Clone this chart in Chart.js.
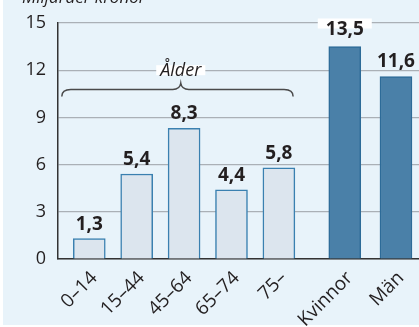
<!DOCTYPE html>
<html lang="sv">
<head>
<meta charset="utf-8">
<script src="https://cdn.jsdelivr.net/npm/chart.js@4.4.1/dist/chart.umd.min.js"></script>
<style>
    html, body { margin: 0; padding: 0; background: #fff; }
    #wrap { width: 419px; height: 327px; }
</style>
</head>
<body>
<div id="wrap"><canvas id="costChart" width="419" height="327"></canvas></div>
<script>
const ageGroups = ['0–14', '15–44', '45–64', '65–74', '75–'];
const ageValues = [1.3, 5.4, 8.3, 4.4, 5.8];
const genders = ['Kvinnor', 'Män'];
const genderValues = [13.5, 11.6];
const yTicks = [0, 3, 6, 9, 12, 15];
const unitLabel = 'Miljarder kronor';
const ageTitle = 'Ålder';

// layout of the x axis, in bar steps
const GENDER_START = 5.39;
const GENDER_STEP = 1.08;

const FONT = '"Open Sans", "DejaVu Sans", sans-serif';
const TEXT = '#231f20';

const agePos = ageGroups.map((g, i) => i);
const genderPos = genders.map((g, j) => GENDER_START + j * GENDER_STEP);
const tickPos = agePos.concat(genderPos);
const tickNames = ageGroups.concat(genders);

function fmt(v) {
    return v.toFixed(1).replace('.', ',');
}

const backdrop = {
    id: 'backdrop',
    beforeDraw(chart) {
        const ctx = chart.ctx;
        ctx.save();
        ctx.fillStyle = '#fff';
        ctx.fillRect(0, 0, chart.width, chart.height);
        ctx.fillStyle = '#e8f3fa';
        ctx.fillRect(3, 0, chart.width - 3, chart.height - 2);
        ctx.restore();
    }
};

const annotations = {
    id: 'annotations',
    beforeDatasetsDraw(chart) {
        const ctx = chart.ctx;
        const x = chart.scales.x, y = chart.scales.y;
        ctx.save();

        // unit title, mostly clipped at the top edge
        ctx.font = 'italic 17px ' + FONT;
        ctx.fillStyle = TEXT;
        ctx.textAlign = 'left';
        ctx.textBaseline = 'alphabetic';
        ctx.fillText(unitLabel, 22, 3);

        // white blank behind the "Ålder" heading on the 12 gridline
        const cx = x.getPixelForValue(1.93);
        const gy = y.getPixelForValue(12);
        ctx.font = 'italic 18px ' + FONT;
        const w = ctx.measureText(ageTitle).width + 8;
        ctx.fillStyle = '#fff';
        ctx.fillRect(cx - w / 2, gy - 5, w, 10);
        ctx.fillStyle = TEXT;
        ctx.textAlign = 'center';
        ctx.fillText(ageTitle, cx, gy + 6);

        // curly brace over the age groups
        const x0 = x.getPixelForValue(-0.58);
        const x1 = x.getPixelForValue(4.3);
        const yl = y.getPixelForValue(10.78);
        const yEnd = yl + 7;
        const yTip = yl - 6;
        ctx.strokeStyle = '#4a4a4a';
        ctx.lineWidth = 1.5;
        ctx.beginPath();
        ctx.moveTo(x0, yEnd);
        ctx.quadraticCurveTo(x0, yl, x0 + 9, yl);
        ctx.lineTo(cx - 8, yl);
        ctx.quadraticCurveTo(cx - 1, yl, cx, yTip);
        ctx.quadraticCurveTo(cx + 1, yl, cx + 8, yl);
        ctx.lineTo(x1 - 9, yl);
        ctx.quadraticCurveTo(x1, yl, x1, yEnd);
        ctx.stroke();

        // tallest bar's label sits on the top gridline, so blank the line there
        const meta = chart.getDatasetMeta(1);
        const top = meta.data[0];
        ctx.font = 'bold 19px ' + FONT;
        const tw = ctx.measureText(fmt(genderValues[0])).width + 16;
        ctx.fillStyle = '#fff';
        ctx.fillRect(top.x - tw / 2, y.getPixelForValue(15) - 4.5, tw, 10);
        ctx.restore();
    },
    afterDatasetsDraw(chart) {
        const ctx = chart.ctx;
        ctx.save();
        ctx.font = 'bold 19px ' + FONT;
        ctx.fillStyle = TEXT;
        ctx.textAlign = 'center';
        ctx.textBaseline = 'alphabetic';
        chart.data.datasets.forEach((ds, di) => {
            chart.getDatasetMeta(di).data.forEach((bar, i) => {
                const v = ds.data[i].y;
                const lift = (di === 1 && i === 0) ? 12 : 9;
                ctx.fillText(fmt(v), bar.x, bar.y - lift);
            });
        });
        ctx.restore();
    }
};

const ctx = document.getElementById('costChart').getContext('2d');
new Chart(ctx, {
    type: 'bar',
    data: {
        datasets: [{
            data: ageValues.map((v, i) => ({ x: agePos[i], y: v })),
            backgroundColor: '#dce5ee',
            borderColor: '#3a80b0',
            borderWidth: 1.5,
        }, {
            data: genderValues.map((v, j) => ({ x: genderPos[j], y: v })),
            backgroundColor: '#4a80a8',
            borderColor: '#2d6b98',
            borderWidth: 1.5,
        }]
    },
    options: {
        responsive: false,
        animation: false,
        devicePixelRatio: 1,
        barThickness: 32,
        grouped: false,
        layout: { padding: { top: 23, right: 0, bottom: 0, left: 0 } },
        plugins: {
            legend: { display: false },
            tooltip: { enabled: false },
        },
        scales: {
            x: {
                type: 'linear',
                min: -0.66,
                max: 6.956,
                offset: false,
                grid: { display: false },
                border: { color: '#333', width: 1.5 },
                afterBuildTicks: (scale) => {
                    scale.ticks = tickPos.map(v => ({ value: v }));
                },
                afterFit: (scale) => { scale.height = 68; },
                ticks: {
                    autoSkip: false,
                    minRotation: 45,
                    maxRotation: 45,
                    padding: 0,
                    labelOffset: 5,
                    color: TEXT,
                    font: { family: FONT, size: 19 },
                    callback: (value, index) => tickNames[index],
                },
            },
            y: {
                min: 0,
                max: 15,
                afterBuildTicks: (scale) => {
                    scale.ticks = yTicks.map(v => ({ value: v }));
                },
                afterFit: (scale) => { scale.width = 58; },
                grid: { color: '#aab0b6', lineWidth: 1.2, drawTicks: false },
                border: { color: '#333', width: 1.5 },
                ticks: {
                    padding: 12,
                    color: TEXT,
                    font: { family: FONT, size: 18 },
                },
            },
        },
    },
    plugins: [backdrop, annotations],
});
</script>
</body>
</html>
